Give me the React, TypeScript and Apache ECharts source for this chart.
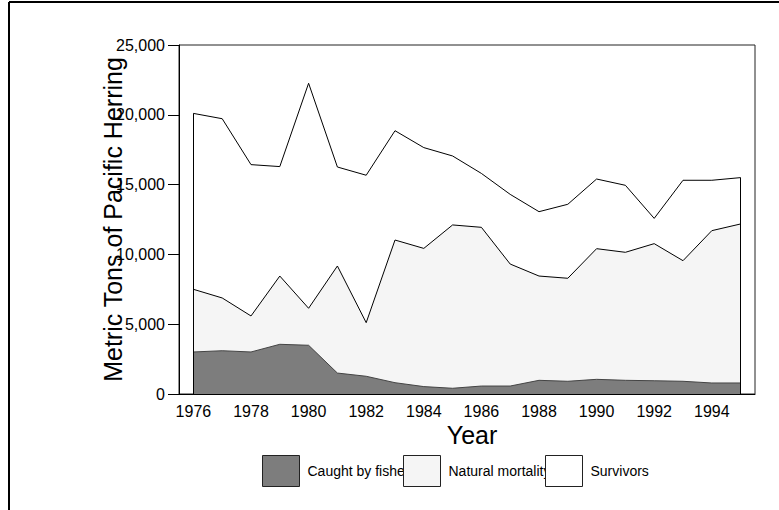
import React, { useEffect, useRef } from 'react';
import * as echarts from 'echarts';

const years = ['1976', '1977', '1978', '1979', '1980', '1981', '1982', '1983', '1984', '1985', '1986', '1987', '1988', '1989', '1990', '1991', '1992', '1993', '1994', '1995'];
const caught = [3010, 3100, 3010, 3560, 3490, 1500, 1270, 810, 530, 410, 570, 570, 980, 910, 1050, 980, 950, 910, 790, 790];
const natural = [4490, 3780, 2580, 4890, 2650, 7670, 3840, 10220, 9900, 11700, 11370, 8740, 7470, 7380, 9360, 9170, 9820, 8640, 10910, 11390];
const survivors = [12600, 12840, 10840, 7840, 16120, 7090, 10560, 7830, 7220, 4940, 3860, 4990, 4610, 5300, 4990, 4800, 1810, 5760, 3610, 3320];
const seriesNames = ['Caught by fishery', 'Natural mortality', 'Survivors'];
const fills = ['#7d7d7d', '#f5f5f5', '#ffffff'];
const edges = ['#444444', '#000000', '#000000'];
const yMin = 0;
const yMax = 25000;
const yStep = 5000;

export default function App() {
  const ref = useRef<HTMLDivElement>(null);
  useEffect(() => {
    const chart = echarts.init(ref.current!, null, { renderer: 'svg' });
    const font = 'Arial, "Liberation Sans", sans-serif';
    const totals = years.map((_, i) => caught[i] + natural[i] + survivors[i]);
    const last = years.length - 1;
    const values = [caught, natural, survivors];
    const legendLeft = [262, 403, 545];
    chart.setOption({
      animation: false,
      backgroundColor: '#ffffff',
      textStyle: { fontFamily: font },
      graphic: [
        {
          type: 'line',
          shape: { x1: 9, y1: 2, x2: 900, y2: 2 },
          style: { stroke: '#000', lineWidth: 2 },
          silent: true,
          z: 100,
        },
        {
          type: 'line',
          shape: { x1: 9, y1: 2, x2: 9, y2: 700 },
          style: { stroke: '#000', lineWidth: 2 },
          silent: true,
          z: 100,
        },
      ],
      grid: {
        left: 179,
        top: 45,
        right: 24,
        bottom: 116,
        show: true,
        borderColor: '#222',
        borderWidth: 1,
        backgroundColor: 'transparent',
      },
      legend: seriesNames.map((n, i) => ({
        data: [{ name: n, itemStyle: { color: fills[i], borderColor: '#222', borderWidth: 1 } }],
        left: legendLeft[i],
        top: 455,
        padding: 0,
        itemWidth: 37,
        itemHeight: 31,
        icon: 'rect',
        selectedMode: false,
        textStyle: { fontSize: 14, fontFamily: font, color: '#000', padding: [0, 0, 0, 3] },
      })),
      xAxis: {
        type: 'category',
        data: years,
        boundaryGap: true,
        name: 'Year',
        nameLocation: 'middle',
        nameGap: 28,
        nameMoveOverlap: false,
        nameTextStyle: { fontSize: 25, color: '#000', fontFamily: font, padding: [0, 0, 0, 10] },
        axisLine: { lineStyle: { color: '#000', width: 1 } },
        axisTick: { alignWithLabel: true, interval: 0, length: 6, lineStyle: { color: '#000' } },
        axisLabel: { interval: 1, fontSize: 16, color: '#000', margin: 9, fontFamily: font },
        splitLine: { show: false },
      },
      yAxis: {
        type: 'value',
        min: yMin,
        max: yMax,
        interval: yStep,
        name: 'Metric Tons of Pacific Herring',
        nameLocation: 'middle',
        nameGap: 54,
        nameMoveOverlap: false,
        nameTextStyle: { fontSize: 25, color: '#000', fontFamily: font },
        axisLine: { show: true, lineStyle: { color: '#000', width: 1 } },
        axisTick: { show: true, length: 11, lineStyle: { color: '#000' } },
        axisLabel: {
          fontSize: 16,
          color: '#000',
          margin: 14,
          fontFamily: font,
          formatter: (v: number) => v.toLocaleString('en-US'),
        },
        splitLine: { show: false },
      },
      series: seriesNames.map((n, i) => ({
        name: n,
        type: 'line',
        stack: 'total',
        data: values[i],
        symbol: 'none',
        z: 4 - i,
        color: fills[i],
        lineStyle: { color: edges[i], width: 1 },
        areaStyle: { color: fills[i], opacity: 1 },
        markLine:
          i === 2
            ? {
                symbol: 'none',
                silent: true,
                label: { show: false },
                lineStyle: { color: '#000', width: 1, type: 'solid' },
                data: [
                  [{ coord: [years[0], 0] }, { coord: [years[0], totals[0]] }],
                  [{ coord: [years[last], 0] }, { coord: [years[last], totals[last]] }],
                ],
              }
            : undefined,
      })),
    });
    return () => chart.dispose();
  }, []);
  return <div ref={ref} style={{ position: 'absolute', left: 0, top: 0, width: 779, height: 510 }} />;
}
